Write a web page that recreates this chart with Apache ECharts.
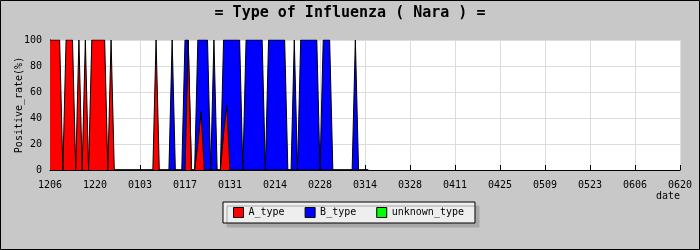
<!DOCTYPE html>
<html>
<head>
<meta charset="utf-8">
<script src="https://cdn.jsdelivr.net/npm/echarts@6/dist/echarts.min.js"></script>
<style>
html,body{margin:0;padding:0;background:#c8c8c8;}
#c{width:700px;height:250px;}
</style>
</head>
<body>
<div id="c"></div>
<script>
// Tick labels every 14 days starting at 12/06 (day 0) through 06/20 (day 196)
var tickLabels = ['1206','1220','0103','0117','0131','0214','0228','0314','0328','0411','0425','0509','0523','0606','0620'];

// Daily positive rate (%) from day 0 (12/06); remaining days are 0
var aType = [
  100,100,100,100,0,100,100,100,0,100,
  0,100,0,100,100,100,100,100,0,100,
  0,0,0,0,0,0,0,0,0,0,
  0,0,0,100,0,0,0,0,0,0,
  0,0,0,100,0,0,20,45,0,0,
  0,0,0,0,28,50,0,0,0,0,
  0,0,0,0,0,0,0,0,0,0,
  0,0,0,0,0,0,0,0,0,0,
  0,0,0,0,0,0,0,0,0,0,
  0,0,0,0,0,0,0,0,0,0
];
var bType = [
  0,0,0,0,0,0,0,0,0,0,
  0,0,0,0,0,0,0,0,0,0,
  0,0,0,0,0,0,0,0,0,0,
  0,0,0,0,0,0,0,0,100,0,
  0,0,100,100,0,0,100,100,100,100,
  0,100,0,0,100,100,100,100,100,100,
  0,100,100,100,100,100,100,0,100,100,
  100,100,100,100,0,0,100,0,100,100,
  100,100,100,100,0,100,100,100,0,0,
  0,0,0,0,0,100,0,0,0,0
];
var unknownType = [
  0,0,0,0,0,0,0,0,0,0,
  0,0,0,0,0,0,0,0,0,0,
  0,0,0,0,0,0,0,0,0,0,
  0,0,0,0,0,0,0,0,0,0,
  0,0,0,0,0,0,0,0,0,0,
  0,0,0,0,0,0,0,0,0,0,
  0,0,0,0,0,0,0,0,0,0,
  0,0,0,0,0,0,0,0,0,0,
  0,0,0,0,0,0,0,0,0,0,
  0,0,0,0,0,0,0,0,0,0
];

var FONT = 'DejaVu Sans Mono';
function pairs(arr){ return arr.map(function(v,i){ return [i,v]; }); }
function mk(name, arr, color, z){
  return {
    name: name, type: 'line', data: pairs(arr), symbol: 'none', z: z,
    itemStyle: {color: color},
    lineStyle: {color: '#000', width: 1},
    areaStyle: {color: color, opacity: 1},
    animation: false
  };
}

var chart = echarts.init(document.getElementById('c'), null, {renderer:'canvas'});
chart.setOption({
  backgroundColor: '#c8c8c8',
  animation: false,
  title: {
    text: '= Type of Influenza ( Nara ) =',
    left: 'center', top: 1,
    textStyle: {fontFamily: FONT, fontSize: 15, fontWeight: 'bold', color: '#000'}
  },
  grid: {left: 50, right: 20, top: 40, bottom: 80, show: true, backgroundColor: '#ffffff', borderWidth: 0,
         containLabel: false, outerBoundsMode: 'none'},
  legend: {
    left: 223, top: 202,
    padding: [5, 11, 5, 10],
    itemGap: 20, itemWidth: 10, itemHeight: 10,
    backgroundColor: '#eeeeee', borderColor: '#000', borderWidth: 1,
    shadowColor: '#a8a8a8', shadowBlur: 0, shadowOffsetX: 4, shadowOffsetY: 4,
    textStyle: {fontFamily: FONT, fontSize: 10, color: '#000'},
    data: [
      {name:'A_type', icon:'rect', itemStyle:{color:'#ff0000', borderColor:'#000', borderWidth:1}},
      {name:'B_type', icon:'rect', itemStyle:{color:'#0000ff', borderColor:'#000', borderWidth:1}},
      {name:'unknown_type', icon:'rect', itemStyle:{color:'#00ff00', borderColor:'#000', borderWidth:1}}
    ]
  },
  xAxis: {
    type: 'value', min: 0, max: 196, interval: 14,
    name: 'date', nameLocation: 'end', nameGap: 0, nameMoveOverlap: false,
    nameTextStyle: {fontFamily: FONT, fontSize: 10, color: '#000', align: 'right', verticalAlign: 'top', padding: [21, 0, 0, 0]},
    axisLine: {show: true, lineStyle: {color: '#000', width: 1}},
    axisTick: {show: true, inside: true, length: 5, lineStyle: {color: '#000'}},
    axisLabel: {margin: 10, fontFamily: FONT, fontSize: 10, color: '#000',
      formatter: function(v){ return tickLabels[Math.round(v/14)]; }},
    splitLine: {show: true, lineStyle: {color: '#dcdcdc', width: 1}}
  },
  yAxis: {
    type: 'value', min: 0, max: 100, interval: 20,
    name: 'Positive_rate(%)', nameLocation: 'middle', nameRotate: 90, nameGap: 26, nameMoveOverlap: false,
    nameTextStyle: {fontFamily: FONT, fontSize: 10, color: '#000'},
    axisLine: {show: true, lineStyle: {color: '#000', width: 1}},
    axisTick: {show: true, inside: true, length: 3, lineStyle: {color: '#000'}},
    minorTick: {show: true, splitNumber: 2, length: 3, lineStyle: {color: '#000'}},
    axisLabel: {margin: 8, fontFamily: FONT, fontSize: 10, color: '#000'},
    splitLine: {show: true, lineStyle: {color: '#dcdcdc', width: 1}}
  },
  graphic: [{
    type: 'rect', silent: true, z: 100,
    shape: {x: 0.5, y: 0.5, width: 699, height: 249},
    style: {fill: 'none', stroke: '#000', lineWidth: 1}
  }],
  series: [
    mk('unknown_type', unknownType, '#00ff00', 2),
    mk('B_type', bType, '#0000ff', 3),
    mk('A_type', aType, '#ff0000', 4)
  ]
});
</script>
</body>
</html>
